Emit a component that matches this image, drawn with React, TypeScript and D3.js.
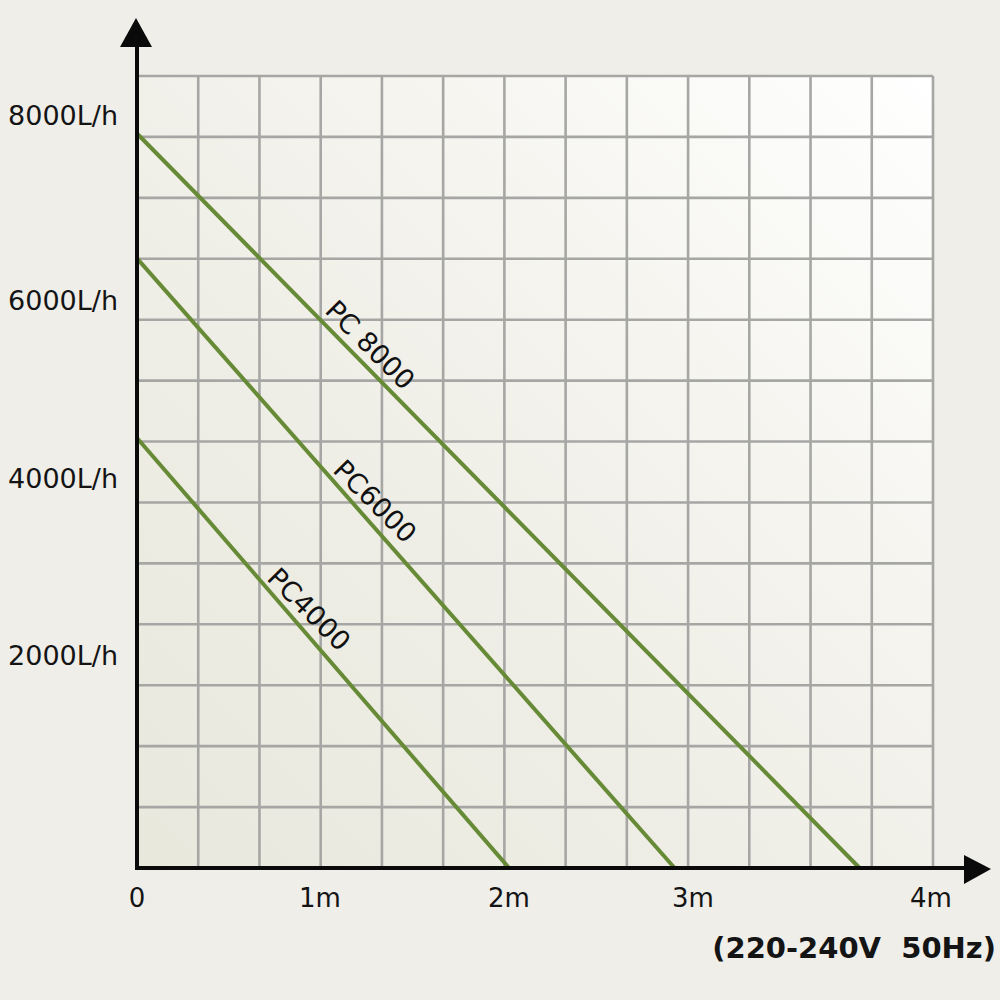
import React from "react";
import * as d3 from "d3";

// ---- data ----
const models = ["PC 8000", "PC6000", "PC4000"];
const maxFlow = [7800, 6450, 4450]; // L/h at 0 m head
const maxHead = [3.7, 2.9, 2.0]; // m at 0 L/h
const labelPos = [0.305, 0.418, 0.426]; // fraction along each line

const xTickValues = [0, 1, 2, 3, 4];
const xTickLabels = ["0", "1m", "2m", "3m", "4m"];
const yTickValues = [2000, 4000, 6000, 8000];
const yTickLabels = ["2000L/h", "4000L/h", "6000L/h", "8000L/h"];
const gridCount = 13;
const footnote = "(220-240V  50Hz)";

const W = 1000;
const H = 1000;
const plotLeft = 137;
const plotRight = 933;
const plotTop = 76;
const plotBottom = 868;

export default function App() {
  // axes scales (ticks on the original are not evenly spaced)
  const x = d3
    .scaleLinear()
    .domain(xTickValues)
    .range([137, 320, 509, 693, 931]);
  const y = d3
    .scaleLinear()
    .domain([0, ...yTickValues])
    .range([868, 655, 478, 300, 115]);
  const gx = d3.scaleLinear().domain([0, gridCount]).range([plotLeft, plotRight]);
  const gy = d3.scaleLinear().domain([0, gridCount]).range([plotBottom, plotTop]);
  const gridIdx = d3.range(gridCount + 1);

  const lineGen = d3
    .line<[number, number]>()
    .x((d) => x(d[0]))
    .y((d) => y(d[1]));

  const font = "'DejaVu Sans', sans-serif";

  return (
    <svg
      width={W}
      height={H}
      style={{ position: "absolute", left: 0, top: 0, background: "#efeee9" }}
    >
      <defs>
        <linearGradient id="bg" x1="0" y1="1" x2="1" y2="0">
          <stop offset="0" stopColor="#e9e8dd" />
          <stop offset="0.5" stopColor="#f1f0e9" />
          <stop offset="1" stopColor="#ffffff" />
        </linearGradient>
      </defs>
      <rect x={0} y={0} width={W} height={H} fill="#efeee9" />
      <rect
        x={plotLeft}
        y={plotTop}
        width={plotRight - plotLeft}
        height={plotBottom - plotTop}
        fill="url(#bg)"
      />
      {/* grid */}
      <g stroke="#a6a6a4" strokeWidth={2.6}>
        {gridIdx.map((i) => (
          <line key={"v" + i} x1={gx(i)} x2={gx(i)} y1={plotTop} y2={plotBottom} />
        ))}
        {gridIdx.map((i) => (
          <line key={"h" + i} x1={plotLeft} x2={plotRight} y1={gy(i)} y2={gy(i)} />
        ))}
      </g>
      {/* curves */}
      <g fill="none" stroke="#668a35" strokeWidth={4}>
        {models.map((m, i) => (
          <path
            key={m}
            d={
              lineGen([
                [0, maxFlow[i]],
                [maxHead[i], 0],
              ]) as string
            }
          />
        ))}
      </g>
      {/* line labels */}
      {models.map((m, i) => {
        const x0 = x(0);
        const y0 = y(maxFlow[i]);
        const x1 = x(maxHead[i]);
        const y1 = y(0);
        const t = labelPos[i];
        const dx = x1 - x0;
        const dy = y1 - y0;
        const len = Math.hypot(dx, dy);
        const nx = dy / len;
        const ny = -dx / len;
        const cx = x0 + dx * t + nx * 18;
        const cy = y0 + dy * t + ny * 18;
        return (
          <text
            key={"l" + m}
            x={cx}
            y={cy}
            dy="0.35em"
            textAnchor="middle"
            fontFamily={font}
            fontSize={27}
            fill="#111"
            transform={`rotate(45 ${cx} ${cy})`}
          >
            {m}
          </text>
        );
      })}
      {/* axes */}
      <g stroke="#0a0a0a" strokeWidth={4}>
        <line x1={plotLeft} x2={plotLeft} y1={44} y2={plotBottom + 2} />
        <line x1={plotLeft - 2} x2={966} y1={plotBottom} y2={plotBottom} />
      </g>
      <path d="M136,18 L120,47 L152,47 Z" fill="#0a0a0a" />
      <path d="M991,869 L964,855 L964,884 Z" fill="#0a0a0a" />
      {/* tick labels */}
      {xTickValues.map((v, i) => (
        <text
          key={"xt" + v}
          x={x(v)}
          y={907}
          textAnchor="middle"
          fontFamily={font}
          fontSize={26}
          fill="#141414"
        >
          {xTickLabels[i]}
        </text>
      ))}
      {yTickValues.map((v, i) => (
        <text
          key={"yt" + v}
          x={118}
          y={y(v)}
          dy="0.36em"
          textAnchor="end"
          fontFamily={font}
          fontSize={27}
          fill="#141414"
        >
          {yTickLabels[i]}
        </text>
      ))}
      <text
        x={996}
        y={958}
        textAnchor="end"
        fontFamily={font}
        fontSize={29}
        fontWeight="bold"
        fill="#141414"
        style={{ whiteSpace: "pre" }}
      >
        {footnote}
      </text>
    </svg>
  );
}
